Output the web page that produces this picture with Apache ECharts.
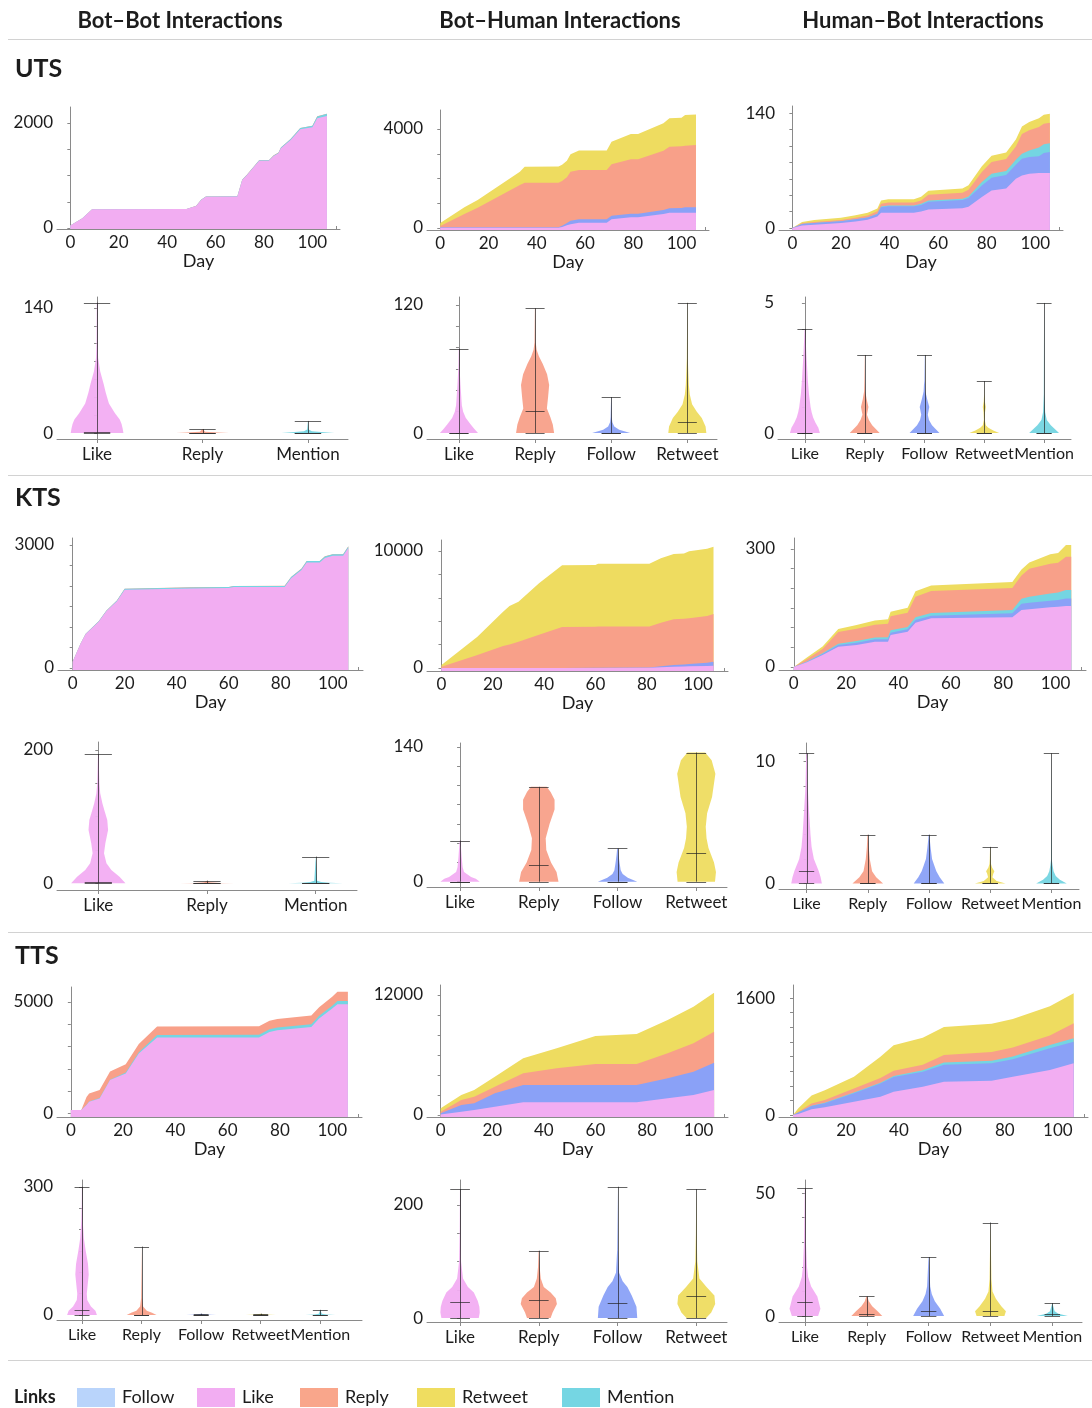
<!DOCTYPE html>
<html><head><meta charset="utf-8">
<script src="https://cdn.jsdelivr.net/npm/echarts@6/dist/echarts.min.js"></script>
<style>html,body{margin:0;padding:0;background:#fff}#c{width:1092px;height:1408px}</style>
</head><body><div id="c"></div>
<script>
// ---------------- DATA ----------------
const columnTitles = ['Bot–Bot Interactions', 'Bot–Human Interactions', 'Human–Bot Interactions'];
const sectionNames = ['UTS', 'KTS', 'TTS'];
const legendItems = ['Follow', 'Like', 'Reply', 'Retweet', 'Mention'];
const dayTickLabels = [0, 20, 40, 60, 80, 100];

// UTS – cumulative interactions per day (stack layers)
const utsBBDays = [0,5,9,48,52,54,56,69,71,73,78,82,84,86,87,91,95,100,102,106];
const utsBBLike = [50,185,356,360,419,533,597,600,914,1010,1283,1283,1372,1422,1518,1676,1879,1917,2089,2133];
const utsBBMention = [0,0,1,2,2,3,3,4,5,6,8,8,10,12,14,18,26,30,36,42];
const utsBBReply = [0,0,1,1,1,1,1,1,1,1,2,2,2,2,2,2,2,3,3,3];
const utsBBYLabels = [0, 2000];

const utsBHDays = [0,10,15.5,33,35,49,50.5,52.5,54,57.5,69,71,79,82,92.5,95,100,101.5,106];
const utsBHLike = [8,8,8,8,8,8,40,110,148,215,215,350,431,431,566,620,620,620,620];
const utsBHFollow = [19,19,19,19,19,19,50,90,140,140,140,140,140,140,161,175,190,216,216];
const utsBHReply = [54,539,793,1710,1804,1804,1810,1847,1980,1993,1993,2087,2208,2208,2398,2491,2491,2491,2514];
const utsBHRetweet = [119,270,311,539,647,649,660,673,714,782,782,903,1023,1023,1104,1144,1150,1238,1240];
const utsBHYLabels = [0, 4000];

const utsHBDays = [0,4,9,20,26,31,35,36.5,39.5,50,53,56,70,72.5,78,82,88,92,94.5,97.5,101.5,103.5,106];
const utsHBLike = [0,3,4,6,8,10,14,18.5,18.7,18.7,20,22.7,24,26,37.7,45.8,48,60,64,66,67,67,67];
const utsHBFollow = [0,2,2.2,2.4,2.6,2.8,3,6.9,7.7,7.7,8.1,9.3,10,10.5,14.2,15.5,16.5,17,20.4,20.5,20.5,24.4,25.6];
const utsHBMention = [0,0,0,0,0,0,0.3,0.8,1.1,1.1,1.5,1.5,1.6,2,4,4.9,5,6.1,6.1,8,10.6,10.6,10.6];
const utsHBReply = [0,0.8,1.2,1.4,2,2.6,3,3.5,3.5,3.5,4,7,7.5,8,12.2,14.2,14.5,16.3,24,24.5,25,25,25];
const utsHBRetweet = [0,1.5,2.5,2.8,3,3.3,3.5,3.8,4,4,4.5,4.8,5,5.5,7,7.5,8,8.5,9,10,10.5,10.8,11];
const utsHBYLabels = [0, 140];

// KTS
const ktsBBDays = [0,3,5,10,13,17,20,45,60,62,81.5,84,88,90,95,97,100,104,106];
const ktsBBLike = [150,590,830,1130,1390,1630,1910,1940,1950,1975,1975,2190,2390,2575,2575,2685,2735,2735,2925];
const ktsBBMention = [0,4,6,10,14,18,22,25,25,26,28,30,32,34,34,36,38,38,40];
const ktsBBReply = [0,0,1,1,1,1,2,2,2,2,2,2,2,3,3,3,3,3,3];
const ktsBBYLabels = [0, 3000];

const ktsBHDays = [0,14,24,26.5,30,38,47,60,61,81,85.5,90.5,94.5,96.5,103.5,106];
const ktsBHLike = [0,0,0,0,0,0,0,5,8,15,60,114,130,150,180,200];
const ktsBHFollow = [0,0,0,0,0,0,0,15,17,25,90,142,170,200,270,341];
const ktsBHReply = [100,1111,1881,2000,2250,2850,3510,3515,3515,3515,3725,3904,3904,3904,4000,4076];
const ktsBHRetweet = [150,1569,2934,3300,3420,4390,5270,5270,5360,5360,5505,5590,5590,5730,5740,5753];
const ktsBHYLabels = [0, 10000];

const ktsHBDays = [0,5,11,17,24,31,36,37,43.5,46.5,52.5,83.5,87,90,98,101,104,106];
const ktsHBLike = [0,12,30.5,51.7,55.9,64.4,64.4,81.3,89.7,112.7,123.7,126.2,145,146.7,151.7,153.4,155.1,155.1];
const ktsHBFollow = [0,1,2.5,4.2,5.9,5.9,5.9,5.9,6,6.8,6.8,10.2,16,16.5,16.9,17,19.4,19.4];
const ktsHBMention = [0,1,2,3,4.2,5,5.5,6,6.2,6.7,6.8,8.6,12.8,15.3,18.6,19,21.2,21.2];
const ktsHBReply = [0,6,11,30,31,32,33.9,35.6,36,52.6,56,56,58.6,71.3,75.6,75.6,84.7,84.7];
const ktsHBRetweet = [0,4,6,8,10,11,11.5,12,12.7,13.5,14,15,15.5,16,24,25,29.7,29.7];
const ktsHBYLabels = [0, 300];

// TTS
const ttsBBDays = [0,4,6,7,11,15,21,26,33,72,76,79,92,95,100,102,106];
const ttsBBLike = [148,148,372,520,670,1492,1792,2688,3405,3405,3656,3732,3880,4256,4704,4897,4897];
const ttsBBMention = [0,0,8,10,18,20,38,52,115,120,120,120,120,120,126,148,148];
const ttsBBReply = [0,0,350,360,360,360,370,370,380,380,380,380,390,390,400,410,410];
const ttsBBYLabels = [0, 5000];

const ttsBHDays = [0,8,13,21,32,45,60,76,88,98,106];
const ttsBHLike = [50,330,500,830,1270,1270,1270,1270,1670,2000,2500];
const ttsBHFollow = [120,670,670,1340,1730,1730,1730,1730,2000,2330,2730];
const ttsBHReply = [160,500,660,660,1170,1670,2100,2100,2500,2840,3100];
const ttsBHRetweet = [340,500,670,1000,1500,2000,2800,3000,3330,3660,3900];
const ttsBHYLabels = [0, 12000];

const ttsHBDays = [0,2,7,12,23,33,38,49,57,75,83,97,106];
const ttsHBLike = [0,14,78,105,182,251,319,387,456,470,524,616,707];
const ttsHBFollow = [0,18,45,55,115,180,200,206,230,237,237,296,296];
const ttsHBMention = [0,2,5,8,10,12,15,20,32,35,38,46,46];
const ttsHBReply = [0,12,30,37,55,65,70,75,104,120,125,130,205];
const ttsHBRetweet = [0,45,110,135,160,290,350,370,380,385,390,400,411];
const ttsHBYLabels = [0, 1600];

// Violin data: categories, min / median / max, density profile [value, relative density]
const utsBBvCats = ['Like','Reply','Mention'];
const utsBBvMin = [0,0,0], utsBBvMed = [1,0,0], utsBBvMax = [146,4.5,13.5];
const utsBBvDens = [
  [[0,1],[5,0.97],[10,0.93],[15,0.86],[22,0.68],[33,0.45],[45,0.33],[55,0.25],[69,0.12],[84,0.04],[100,0.02],[146,0.01]],
  [[0,1],[0.5,0.6],[1.5,0.1],[4.5,0]],
  [[0,1],[1,0.5],[2,0.15],[4,0.03],[13.5,0]]];
const utsBBvLabels = [0, 140];

const utsBHvCats = ['Like','Reply','Follow','Retweet'];
const utsBHvMin = [0,0,0,0], utsBHvMed = [0,20.6,0,10.4], utsBHvMax = [79,117,33.7,122];
const utsBHvDens = [
  [[0,1],[4,0.8],[8,0.62],[14,0.36],[20,0.22],[26,0.15],[45,0.08],[62,0.03],[79,0.01]],
  [[0,1],[8,0.93],[15,0.8],[23,0.62],[33,0.68],[45,0.74],[55,0.63],[65,0.4],[72,0.2],[78,0.08],[85,0.03],[117,0.01]],
  [[0,1],[3,0.42],[6,0.16],[10,0.06],[15,0.03],[33.7,0.005]],
  [[0,1],[6,0.96],[14,0.76],[20,0.5],[27,0.25],[36,0.13],[45,0.08],[58,0.05],[70,0.025],[122,0.005]]];
const utsBHvLabels = [0, 120];

const utsHBvCats = ['Like','Reply','Follow','Retweet','Mention'];
const utsHBvMin = [0,0,0,0,0], utsHBvMed = [0,0,0,0,0], utsHBvMax = [4,3,3,2,5];
const utsHBvDens = [
  [[0,1],[0.2,0.9],[0.4,0.7],[0.6,0.55],[0.8,0.45],[1,0.38],[1.5,0.27],[2,0.2],[3,0.1],[4,0.02]],
  [[0,1],[0.3,0.5],[0.5,0.28],[0.7,0.15],[1,0.25],[1.3,0.13],[1.6,0.04],[2,0.02],[3,0.005]],
  [[0,1],[0.3,0.5],[0.5,0.3],[0.7,0.22],[1,0.32],[1.3,0.18],[1.6,0.06],[2,0.02],[3,0.005]],
  [[0,1],[0.1,0.6],[0.2,0.27],[0.3,0.1],[0.5,0.03],[0.8,0.05],[1,0.1],[1.2,0.04],[1.5,0.01],[2,0]],
  [[0,1],[0.3,0.45],[0.5,0.18],[0.8,0.07],[1.5,0.02],[5,0]]];
const utsHBvLabels = [0, 5];

const ktsBBvCats = ['Like','Reply','Mention'];
const ktsBBvMin = [0,0,0], ktsBBvMed = [2,0,0], ktsBBvMax = [194,4,40];
const ktsBBvDens = [
  [[0,1],[10,0.78],[20,0.48],[30,0.3],[45,0.21],[60,0.26],[80,0.36],[95,0.33],[110,0.22],[120,0.15],[135,0.07],[150,0.04],[194,0.01]],
  [[0,1],[0.5,0.5],[1.5,0.1],[4,0]],
  [[0,1],[1,0.5],[2,0.2],[4,0.05],[40,0]]];
const ktsBBvLabels = [0, 200];

const ktsBHvCats = ['Like','Reply','Follow','Retweet'];
const ktsBHvMin = [0,0,0,0], ktsBHvMed = [0,17.3,0,29.4], ktsBHvMax = [42.7,98.4,34.5,134];
const ktsBHvDens = [
  [[0,1],[3,0.8],[5,0.56],[10,0.2],[15,0.13],[26,0.08],[42.7,0.02]],
  [[0,1],[10,0.9],[20,0.62],[33,0.38],[45,0.35],[60,0.55],[75,0.8],[85,0.8],[93,0.6],[98.4,0.4]],
  [[0,1],[4,0.52],[8,0.26],[12,0.16],[20,0.1],[28,0.05],[34.5,0.02]],
  [[0,0.95],[10,1],[20,0.9],[35,0.62],[45,0.52],[57,0.48],[71,0.55],[88,0.8],[112,0.97],[126,0.78],[134,0.45]]];
const ktsBHvLabels = [0, 140];

const ktsHBvCats = ['Like','Reply','Follow','Retweet','Mention'];
const ktsHBvMin = [0,0,0,0,0], ktsHBvMed = [1,0,0,0,0], ktsHBvMax = [10.7,4,4,3,10.7];
const ktsHBvDens = [
  [[0,1],[0.5,0.92],[1,0.8],[2,0.48],[3,0.33],[4,0.26],[6,0.16],[8,0.07],[10.7,0.02]],
  [[0,1],[0.5,0.55],[1,0.28],[2,0.13],[3,0.06],[4,0.02]],
  [[0,1],[0.5,0.7],[1,0.48],[1.5,0.34],[2,0.2],[3,0.1],[4,0.02]],
  [[0,1],[0.2,0.42],[0.5,0.14],[0.8,0.2],[1,0.27],[1.3,0.12],[1.6,0.05],[2,0.03],[3,0.01]],
  [[0,1],[0.3,0.55],[0.6,0.28],[1,0.14],[1.5,0.07],[2,0.02],[10.7,0]]];
const ktsHBvLabels = [0, 10];

const ttsBBvCats = ['Like','Reply','Follow','Retweet','Mention'];
const ttsBBvMin = [0,0,0,0,0], ttsBBvMed = [12,0,0,0,1], ttsBBvMax = [300,160,3,3,12];
const ttsBBvDens = [
  [[0,1],[10,0.9],[20,0.6],[35,0.35],[50,0.32],[70,0.38],[95,0.45],[120,0.4],[150,0.25],[180,0.12],[220,0.05],[260,0.02],[300,0.01]],
  [[0,1],[5,0.7],[10,0.35],[20,0.1],[40,0.03],[160,0]],
  [[0,1],[1,0.3],[3,0]],
  [[0,1],[1,0.3],[3,0]],
  [[0,1],[1,0.4],[3,0.1],[12,0]]];
const ttsBBvLabels = [0, 300];

const ttsBHvCats = ['Like','Reply','Follow','Retweet'];
const ttsBHvMin = [0,0,0,0], ttsBHvMed = [28,32,26.5,39], ttsBHvMax = [228,119,232,228];
const ttsBHvDens = [
  [[0,0.95],[10,1],[20,0.98],[30,0.9],[45,0.7],[55,0.4],[70,0.15],[100,0.05],[150,0.02],[228,0.005]],
  [[0,0.6],[10,0.7],[25,0.92],[35,0.86],[45,0.6],[55,0.25],[70,0.1],[90,0.04],[119,0.01]],
  [[0,1],[20,0.96],[40,0.72],[55,0.5],[65,0.26],[80,0.08],[120,0.02],[232,0]],
  [[0,0.5],[10,0.76],[25,0.96],[40,0.92],[55,0.52],[70,0.16],[100,0.05],[150,0.02],[228,0]]];
const ttsBHvLabels = [0, 200];

const ttsHBvCats = ['Like','Reply','Follow','Retweet','Mention'];
const ttsHBvMin = [0,0,0,0,0], ttsHBvMed = [5.7,1,2,2,1], ttsHBvMax = [52,8,24,38,5.3];
const ttsHBvDens = [
  [[0,0.85],[3,1],[8,0.8],[12,0.4],[16,0.2],[20,0.13],[30,0.06],[52,0.01]],
  [[0,1],[2,0.7],[4,0.35],[6,0.13],[8,0.03]],
  [[0,1],[3,0.75],[6,0.4],[9,0.2],[12,0.1],[24,0.01]],
  [[0,0.9],[2,1],[4,0.7],[7,0.35],[10,0.13],[15,0.06],[38,0]],
  [[0,1],[1,0.4],[2,0.15],[5.3,0]]];
const ttsHBvLabels = [0, 50];

// ---------------- STYLE / LAYOUT ----------------
const FONT = 'Lato, "Noto Sans", sans-serif';
const TXT = '#1c1c1c';
const AXC = '#8a8a8a';
const COLOR = {Like:'#f2adf2', Follow:'#8aa1f7', Mention:'#74d5e2', Reply:'#f8a089', Retweet:'#eedc60'};
const LEGEND_COLOR = {Follow:'#b9d4fb', Like:'#f2adf2', Reply:'#f9a68b', Retweet:'#efdd60', Mention:'#75d6e3'};
const STACK_ORDER = ['Like','Follow','Mention','Reply','Retweet'];
const HALF = 0.25, CAP = 0.125;

function range(a, b, s) { const r = []; for (let v = a; v <= b + 1e-9; v += s) r.push(v); return r; }

const areaPanels = [
  {L:{l:57,r:340,t:107,b:229,x:[-5.5,111.4],y:[-19,2305]}, step:500, days:utsBBDays, layers:{Like:utsBBLike,Mention:utsBBMention,Reply:utsBBReply}, yl:utsBBYLabels},
  {L:{l:427,r:709,t:110,b:230,x:[-5.5,111.4],y:[-81,4768]}, step:1000, days:utsBHDays, layers:{Like:utsBHLike,Follow:utsBHFollow,Reply:utsBHReply,Retweet:utsBHRetweet}, yl:utsBHYLabels},
  {L:{l:779,r:1063,t:106,b:230,x:[-5.5,111.4],y:[-2.4,148.6]}, step:20, days:utsHBDays, layers:{Like:utsHBLike,Follow:utsHBFollow,Mention:utsHBMention,Reply:utsHBReply,Retweet:utsHBRetweet}, yl:utsHBYLabels},
  {L:{l:58,r:363,t:538,b:670,x:[-5.65,111.65],y:[-49,3171]}, step:500, days:ktsBBDays, layers:{Like:ktsBBLike,Mention:ktsBBMention,Reply:ktsBBReply}, yl:ktsBBYLabels},
  {L:{l:427,r:728,t:540,b:671,x:[-5.65,111.65],y:[-256,10940]}, step:2000, days:ktsBHDays, layers:{Like:ktsBHLike,Follow:ktsBHFollow,Reply:ktsBHReply,Retweet:ktsBHRetweet}, yl:ktsBHYLabels},
  {L:{l:779,r:1086,t:538,b:670,x:[-5.65,111.65],y:[-7.6,328]}, step:50, days:ktsHBDays, layers:{Like:ktsHBLike,Follow:ktsHBFollow,Mention:ktsHBMention,Reply:ktsHBReply,Retweet:ktsHBRetweet}, yl:ktsHBYLabels},
  {L:{l:57,r:362,t:987,b:1117,x:[-5.3,111.4],y:[-166,5672]}, step:1000, days:ttsBBDays, layers:{Like:ttsBBLike,Mention:ttsBBMention,Reply:ttsBBReply}, yl:ttsBBYLabels},
  {L:{l:427,r:728,t:985,b:1117,x:[-5.3,111.4],y:[-200,13000]}, step:2000, days:ttsBHDays, layers:{Like:ttsBHLike,Follow:ttsBHFollow,Reply:ttsBHReply,Retweet:ttsBHRetweet}, yl:ttsBHYLabels},
  {L:{l:779,r:1088,t:985,b:1117,x:[-5.3,111.4],y:[-27,1778]}, step:200, days:ttsHBDays, layers:{Like:ttsHBLike,Follow:ttsHBFollow,Mention:ttsHBMention,Reply:ttsHBReply,Retweet:ttsHBRetweet}, yl:ttsHBYLabels}
];

const violinPanels = [
  {L:{l:57,r:348,t:297,b:439,x:[-0.38,2.38],y:[-6.7,152.3]}, step:20, cats:utsBBvCats, mins:utsBBvMin, meds:utsBBvMed, maxs:utsBBvMax, dens:utsBBvDens, yl:utsBBvLabels},
  {L:{l:427,r:717,t:297,b:439,x:[-0.42,3.39],y:[-5.6,127.5]}, step:20, cats:utsBHvCats, mins:utsBHvMin, meds:utsBHvMed, maxs:utsBHvMax, dens:utsBHvDens, yl:utsBHvLabels},
  {L:{l:778,r:1071,t:297,b:439,x:[-0.45,4.45],y:[-0.23,5.23]}, step:1, cats:utsHBvCats, mins:utsHBvMin, meds:utsHBvMed, maxs:utsHBvMax, dens:utsHBvDens, yl:utsHBvLabels},
  {L:{l:57,r:357,t:742,b:890,x:[-0.38,2.38],y:[-10,212]}, step:50, cats:ktsBBvCats, mins:ktsBBvMin, meds:ktsBBvMed, maxs:ktsBBvMax, dens:ktsBBvDens, yl:ktsBBvLabels},
  {L:{l:427,r:727,t:743,b:887,x:[-0.42,3.39],y:[-5.5,143.9]}, step:20, cats:ktsBHvCats, mins:ktsBHvMin, meds:ktsBHvMed, maxs:ktsBHvMax, dens:ktsBHvDens, yl:ktsBHvLabels},
  {L:{l:779,r:1079,t:743,b:889,x:[-0.45,4.45],y:[-0.46,11.54]}, step:2, cats:ktsHBvCats, mins:ktsHBvMin, meds:ktsHBvMed, maxs:ktsHBvMax, dens:ktsHBvDens, yl:ktsHBvLabels},
  {L:{l:57,r:362,t:1180,b:1320,x:[-0.42,4.7],y:[-11.7,316]}, step:50, cats:ttsBBvCats, mins:ttsBBvMin, meds:ttsBBvMed, maxs:ttsBBvMax, dens:ttsBBvDens, yl:ttsBBvLabels},
  {L:{l:427,r:727,t:1180,b:1322,x:[-0.42,3.39],y:[-7,244]}, step:50, cats:ttsBHvCats, mins:ttsBHvMin, meds:ttsBHvMed, maxs:ttsBHvMax, dens:ttsBHvDens, yl:ttsBHvLabels},
  {L:{l:779,r:1082,t:1180,b:1322,x:[-0.42,4.48],y:[-2.4,55.3]}, step:10, cats:ttsHBvCats, mins:ttsHBvMin, meds:ttsHBvMed, maxs:ttsHBvMax, dens:ttsHBvDens, yl:ttsHBvLabels}
];

// ---------------- BUILD ----------------
const option = {animation:false, backgroundColor:'#ffffff', textStyle:{fontFamily:FONT},
  grid:[], xAxis:[], yAxis:[], series:[], graphic:[]};

function addGrid(L) {
  option.grid.push({left:L.l, top:L.t, width:L.r - L.l, height:L.b - L.t, containLabel:false, outerBoundsMode:'none'});
  return option.grid.length - 1;
}
function yAxisFor(g, L, step, labels) {
  return {type:'value', gridIndex:g, min:L.y[0], max:L.y[1],
    axisLine:{show:true, lineStyle:{color:AXC, width:1}}, splitLine:{show:false},
    axisTick:{show:true, customValues:range(0, L.y[1], step), length:3, lineStyle:{color:AXC}},
    axisLabel:{show:true, customValues:labels, formatter:v => String(v), hideOverlap:false,
      color:TXT, fontSize:17, fontFamily:FONT, margin:4}};
}

areaPanels.forEach(p => {
  const g = addGrid(p.L);
  option.xAxis.push({type:'value', gridIndex:g, min:p.L.x[0], max:p.L.x[1],
    axisLine:{show:true, onZero:false, lineStyle:{color:AXC, width:1}}, splitLine:{show:false},
    axisTick:{show:true, inside:true, customValues:range(0, 110, 5), length:3, lineStyle:{color:AXC}},
    axisLabel:{show:true, customValues:dayTickLabels, formatter:v => String(v), hideOverlap:false,
      color:TXT, fontSize:17, fontFamily:FONT, margin:5},
    name:'Day', nameLocation:'middle', nameGap:23, nameTextStyle:{color:TXT, fontSize:18, fontFamily:FONT}});
  option.yAxis.push(yAxisFor(g, p.L, p.step, p.yl));
  const ai = option.xAxis.length - 1;
  // cumulative stack tops, built from the layer arrays (bottom -> top)
  const keys = STACK_ORDER.filter(k => p.layers[k]);
  const tops = [];
  let run = p.days.map(() => 0);
  keys.forEach(k => { run = run.map((s, j) => s + p.layers[k][j]); tops.push(run); });
  // draw top-most first so lower layers paint over it
  for (let n = keys.length - 1; n >= 0; n--) {
    const k = keys[n], top = tops[n];
    option.series.push({type:'line', id:'a' + ai + k, xAxisIndex:ai, yAxisIndex:ai,
      data:p.days.map((d, j) => [d, top[j]]), symbol:'none', showSymbol:false, silent:true,
      lineStyle:{width:0}, areaStyle:{color:COLOR[k], opacity:1, origin:'start'}, z:2});
  }
});

violinPanels.forEach(p => {
  const g = addGrid(p.L);
  const idx = p.cats.map((c, i) => i);
  const fs = p.cats.length >= 5 ? 16 : 17;
  option.xAxis.push({type:'value', gridIndex:g, min:p.L.x[0], max:p.L.x[1],
    axisLine:{show:true, onZero:false, lineStyle:{color:AXC, width:1}}, splitLine:{show:false},
    axisTick:{show:true, customValues:idx, length:4, lineStyle:{color:AXC}},
    axisLabel:{show:true, customValues:idx, formatter:v => p.cats[Math.round(v)], hideOverlap:false, interval:0,
      showMinLabel:true, showMaxLabel:true, color:TXT, fontSize:fs, fontFamily:FONT, margin:7}});
  option.yAxis.push(yAxisFor(g, p.L, p.step, p.yl));
  const ai = option.xAxis.length - 1;
  option.series.push({type:'custom', id:'v' + ai, xAxisIndex:ai, yAxisIndex:ai, clip:false, silent:true,
    data:p.cats.map((c, i) => [i, p.maxs[i]]), encode:{x:0, y:1},
    renderItem:(params, api) => {
      const i = params.dataIndex;
      const prof = p.dens[i];
      const pts = [];
      prof.forEach(([v, d]) => pts.push(api.coord([i + HALF * d, v])));
      for (let k = prof.length - 1; k >= 0; k--) { const [v, d] = prof[k]; pts.push(api.coord([i - HALF * d, v])); }
      const seg = (x1, y1, x2, y2) => {
        const a = api.coord([x1, y1]), b = api.coord([x2, y2]);
        const vert = x1 === x2;
        const ax = vert ? Math.round(a[0]) + 0.5 : a[0], bx = vert ? Math.round(b[0]) + 0.5 : b[0];
        const ay = vert ? a[1] : Math.round(a[1]) + 0.5, by = vert ? b[1] : Math.round(b[1]) + 0.5;
        return {type:'line', shape:{x1:ax, y1:ay, x2:bx, y2:by}, style:{stroke:'rgba(35,35,35,0.7)', lineWidth:1}};
      };
      return {type:'group', children:[
        {type:'polygon', shape:{points:pts}, style:{fill:COLOR[p.cats[i]], opacity:0.95}},
        seg(i, p.mins[i], i, p.maxs[i]),
        seg(i - CAP, p.mins[i], i + CAP, p.mins[i]),
        seg(i - CAP, p.maxs[i], i + CAP, p.maxs[i]),
        seg(i - CAP, p.meds[i], i + CAP, p.meds[i])
      ]};
    }});
});

// headers, section labels, separators, legend
const colCenters = [180, 560, 923];
columnTitles.forEach((t, i) => option.graphic.push({type:'text', x:colCenters[i], y:21,
  style:{text:t, fontSize:22, fontWeight:'bold', fontFamily:FONT, fill:TXT, align:'center', verticalAlign:'middle'}}));
const secY = [69, 498, 956];
sectionNames.forEach((t, i) => option.graphic.push({type:'text', x:15, y:secY[i],
  style:{text:t, fontSize:25, fontWeight:'bold', fontFamily:FONT, fill:TXT, align:'left', verticalAlign:'middle'}}));
[39, 475, 932, 1360].forEach(y => option.graphic.push({type:'line', shape:{x1:8, y1:y + 0.5, x2:1092, y2:y + 0.5},
  style:{stroke:'#d2d2d2', lineWidth:1}}));
option.graphic.push({type:'text', x:14, y:1397, style:{text:'Links', fontSize:18, fontWeight:'bold', fontFamily:FONT, fill:TXT, align:'left', verticalAlign:'middle'}});
const legX = [77, 197, 300, 417, 562];
legendItems.forEach((k, i) => {
  option.graphic.push({type:'rect', shape:{x:legX[i], y:1388, width:38, height:19}, style:{fill:LEGEND_COLOR[k]}});
  option.graphic.push({type:'text', x:legX[i] + 45, y:1397, style:{text:k, fontSize:18, fontFamily:FONT, fill:TXT, align:'left', verticalAlign:'middle'}});
});

const chart = echarts.init(document.getElementById('c'), null, {renderer:'canvas', width:1092, height:1408});
chart.setOption(option);
</script></body></html>
